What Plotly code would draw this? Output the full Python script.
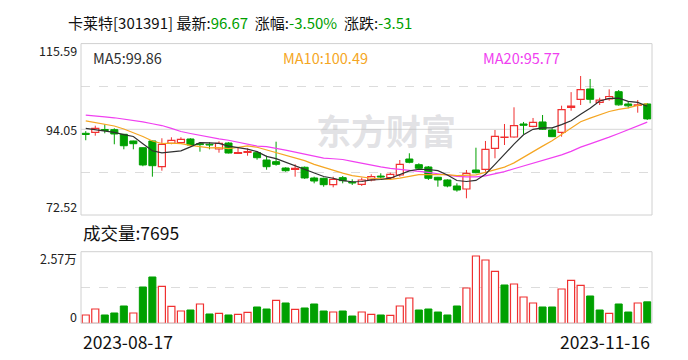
import plotly.graph_objects as go

# ---------------- data ----------------
dates = [
    "2023-08-17", "2023-08-18", "2023-08-21", "2023-08-22", "2023-08-23", "2023-08-24", "2023-08-25",
    "2023-08-28", "2023-08-29", "2023-08-30", "2023-08-31",
    "2023-09-01", "2023-09-04", "2023-09-05", "2023-09-06", "2023-09-07", "2023-09-08",
    "2023-09-11", "2023-09-12", "2023-09-13", "2023-09-14", "2023-09-15",
    "2023-09-18", "2023-09-19", "2023-09-20", "2023-09-21", "2023-09-22",
    "2023-09-25", "2023-09-26", "2023-09-27", "2023-09-28",
    "2023-10-09", "2023-10-10", "2023-10-11", "2023-10-12", "2023-10-13",
    "2023-10-16", "2023-10-17", "2023-10-18", "2023-10-19", "2023-10-20",
    "2023-10-23", "2023-10-24", "2023-10-25", "2023-10-26", "2023-10-27",
    "2023-10-30", "2023-10-31",
    "2023-11-01", "2023-11-02", "2023-11-03", "2023-11-06", "2023-11-07", "2023-11-08",
    "2023-11-09", "2023-11-10", "2023-11-13", "2023-11-14", "2023-11-15", "2023-11-16",
]
opens = [93.05, 93.30, 94.00, 93.96, 92.80, 91.12, 89.43, 91.12, 84.66, 90.54,
         90.70, 91.62, 90.45, 90.30, 89.11, 90.61, 88.00, 88.28, 88.18, 86.34,
         85.92, 84.33, 84.00, 84.51, 81.82, 81.74, 80.14, 81.90, 80.74, 80.23,
         81.32, 82.30, 81.90, 82.57, 86.59, 85.16, 84.58, 82.00, 81.32, 79.81,
         79.05, 83.83, 84.00, 89.28, 92.00, 92.12, 95.39, 94.80, 95.90, 93.88,
         93.30, 99.58, 101.59, 104.19, 100.84, 101.67, 103.50, 100.42, 100.05, 100.42]
highs = [93.60, 94.96, 95.31, 94.31, 92.90, 91.20, 89.50, 91.20, 91.80, 92.05,
         92.05, 91.80, 90.80, 90.79, 91.04, 90.80, 89.43, 89.28, 88.60, 87.42,
         90.94, 84.50, 85.26, 84.70, 82.15, 81.90, 82.15, 82.32, 81.49, 81.90,
         82.75, 83.00, 83.15, 86.34, 88.03, 85.51, 84.83, 82.10, 81.50, 80.48,
         83.83, 89.43, 91.12, 93.88, 95.39, 99.58, 95.90, 96.90, 97.65, 94.30,
         99.99, 103.40, 107.45, 106.70, 102.00, 104.10, 103.93, 101.00, 101.42, 100.60]
lows = [91.30, 92.45, 93.05, 90.29, 89.03, 89.03, 84.76, 82.15, 83.65, 90.30,
        90.37, 89.90, 88.43, 89.03, 88.18, 88.00, 87.85, 87.42, 86.42, 83.90,
        84.91, 83.40, 82.15, 81.60, 80.48, 79.63, 79.48, 80.48, 80.06, 79.81,
        80.98, 81.57, 81.40, 82.15, 85.51, 84.00, 81.32, 79.63, 79.48, 78.38,
        76.72, 83.00, 83.40, 86.77, 90.11, 91.95, 92.88, 94.56, 93.88, 92.10,
        92.20, 98.73, 100.16, 100.60, 100.16, 101.25, 99.99, 99.33, 98.23, 96.40]
closes = [92.75, 94.31, 93.75, 92.88, 89.93, 90.44, 85.09, 84.91, 90.29, 91.29,
          91.54, 90.11, 90.20, 90.10, 90.54, 88.10, 88.20, 88.43, 86.92, 84.66,
          85.26, 83.65, 84.25, 81.83, 81.06, 80.14, 81.49, 81.15, 80.56, 81.32,
          82.15, 82.05, 82.75, 85.26, 85.76, 84.26, 81.74, 81.32, 79.81, 78.80,
          83.00, 83.15, 89.03, 92.30, 92.10, 95.00, 95.06, 95.81, 94.06, 92.20,
          99.00, 99.90, 104.00, 101.59, 101.40, 102.30, 100.20, 99.95, 100.18, 96.67]
volumes = [2980, 5130, 2980, 3700, 6210, 3700, 13030, 16620, 13280, 6100,
           4410, 4770, 6930, 3340, 3590, 2980, 3230, 3950, 5850, 5130,
           8260, 7290, 5030, 5490, 6930, 4410, 4050, 4410, 2620, 4050,
           3230, 2980, 2860, 6210, 9080, 4770, 5130, 4050, 2980, 6210,
           12670, 24160, 22720, 18660, 13750, 14110, 9440, 7290, 5850, 5850,
           12310, 15430, 13640, 9800, 4770, 3590, 6930, 4050, 7290, 7695]
prev_close = 92.50  # close of the session before the first shown day

# moving-average values at the left edge (they depend on sessions before the window)
ma5_lead = [94.30, 94.00, 93.60, 93.30]
ma10_lead = [96.15, 95.77, 95.31, 94.89, 94.13, 93.25, 92.25, 91.12, 90.49]
ma20_lead = [97.60, 97.45, 97.20, 96.95, 96.65, 96.30, 95.90, 95.45, 95.00, 94.30,
             93.50, 93.00, 92.50, 92.00, 91.65, 91.30, 90.85, 90.35, 89.85]

stock_name = "卡莱特[301391]"
latest = "96.67"
pct_change = "-3.50%"
abs_change = "-3.51"
ma_labels = {"MA5": "99.86", "MA10": "100.49", "MA20": "95.77"}
last_volume = "7695"

price_ticks = [72.52, 94.05, 115.59]
vol_top = 25700
vol_top_label = "2.57万"

# ---------------- styles ----------------
RED = "#f03030"
GREEN = "#00a000"
C_MA5 = "#303030"
C_MA10 = "#f5a623"
C_MA20 = "#f040f0"
FONT = "Noto Sans CJK SC"

W, H = 688, 360
L_PX, R_PX = 81, 652
P_TOP, P_BOT = 43.6, 215
V_TOP, V_BOT = 251.7, 323.3


def moving_average(vals, n, lead):
    out = list(lead)
    for i in range(len(lead), len(vals)):
        out.append(sum(vals[i - n + 1:i + 1]) / n)
    return out


ma5 = moving_average(closes, 5, ma5_lead)
ma10 = moving_average(closes, 10, ma10_lead)
ma20 = moving_average(closes, 20, ma20_lead)

fig = go.Figure()

# wicks
for up in (True, False):
    xs, ys = [], []
    for i, d in enumerate(dates):
        if (closes[i] >= opens[i]) != up:
            continue
        top = max(opens[i], closes[i])
        bot = min(opens[i], closes[i])
        xs += [d, d, None, d, d, None]
        ys += [highs[i], top, None, bot, lows[i], None]
    fig.add_trace(go.Scatter(x=xs, y=ys, mode="lines", line=dict(color=RED if up else GREEN, width=1),
                             hoverinfo="skip", showlegend=False, xaxis="x", yaxis="y"))

# bodies
up_i = [i for i in range(len(dates)) if closes[i] >= opens[i]]
dn_i = [i for i in range(len(dates)) if closes[i] < opens[i]]
fig.add_trace(go.Bar(x=[dates[i] for i in up_i], base=[opens[i] for i in up_i],
                     y=[closes[i] - opens[i] for i in up_i], width=0.74,
                     marker=dict(color="white", line=dict(color=RED, width=1.2)),
                     showlegend=False, xaxis="x", yaxis="y"))
fig.add_trace(go.Bar(x=[dates[i] for i in dn_i], base=[closes[i] for i in dn_i],
                     y=[opens[i] - closes[i] for i in dn_i], width=0.74,
                     marker=dict(color=GREEN, line=dict(color=GREEN, width=1)),
                     showlegend=False, xaxis="x", yaxis="y"))

# moving averages
for vals, col in ((ma20, C_MA20), (ma10, C_MA10), (ma5, C_MA5)):
    fig.add_trace(go.Scatter(x=dates, y=vals, mode="lines", line=dict(color=col, width=1.2),
                             showlegend=False, xaxis="x", yaxis="y"))

# volume
prevs = [prev_close] + closes[:-1]
vu = [i for i in range(len(dates)) if closes[i] >= prevs[i]]
vd = [i for i in range(len(dates)) if closes[i] < prevs[i]]
fig.add_trace(go.Bar(x=[dates[i] for i in vu], y=[volumes[i] for i in vu], width=0.74,
                     marker=dict(color="white", line=dict(color=RED, width=1.2)),
                     showlegend=False, xaxis="x2", yaxis="y2"))
fig.add_trace(go.Bar(x=[dates[i] for i in vd], y=[volumes[i] for i in vd], width=0.74,
                     marker=dict(color=GREEN, line=dict(color=GREEN, width=1)),
                     showlegend=False, xaxis="x2", yaxis="y2"))

xdom = [L_PX / W, R_PX / W]
p_lo, p_hi = price_ticks[0], price_ticks[-1]
mid = (p_lo + p_hi) / 2
q1 = p_lo + (p_hi - p_lo) / 4
q3 = p_lo + 3 * (p_hi - p_lo) / 4

xcommon = dict(domain=xdom, type="category", categoryorder="array", categoryarray=dates,
               range=[-0.5, len(dates) - 0.5], showticklabels=False, showgrid=False,
               zeroline=False, showline=False, ticks="")

fig.update_layout(
    width=W, height=H, margin=dict(l=0, r=0, t=0, b=0),
    paper_bgcolor="white", plot_bgcolor="white",
    barmode="overlay", showlegend=False, hovermode=False,
    font=dict(family=FONT, color="#222222"),
    xaxis=dict(**xcommon, anchor="y"),
    xaxis2=dict(**xcommon, anchor="y2"),
    yaxis=dict(domain=[1 - P_BOT / H, 1 - P_TOP / H], range=[p_lo, p_hi],
               tickvals=[q1, q3], showticklabels=False, showgrid=True,
               gridcolor="#dcdcdc", griddash="dash", gridwidth=1, zeroline=False,
               showline=False, ticks=""),
    yaxis2=dict(domain=[1 - V_BOT / H, 1 - V_TOP / H], range=[0, vol_top],
                tickvals=[vol_top / 2], showticklabels=False, showgrid=True,
                gridcolor="#dcdcdc", griddash="dash", gridwidth=1, zeroline=False,
                showline=False, ticks=""),
)

# frames and mid line
for xr, yr in (("x domain", "y domain"), ("x2 domain", "y2 domain")):
    fig.add_shape(type="rect", xref=xr, yref=yr, x0=0, x1=1, y0=0, y1=1,
                  line=dict(color="#d0d0d0", width=1), fillcolor="rgba(0,0,0,0)", layer="above")
fig.add_shape(type="line", xref="x domain", yref="y", x0=0, x1=1, y0=mid, y1=mid,
              line=dict(color="#d6d6d6", width=1), layer="below")

ann = []
# watermark
ann.append(dict(text="<b>东方财富</b>", xref="paper", yref="paper", x=386 / W, y=1 - 129 / H,
                xanchor="center", yanchor="middle", showarrow=False,
                font=dict(size=35, color="rgba(190,190,196,0.45)", family=FONT)))
# title
nb = "\u00a0"
title = (f"{stock_name}{nb}最新:<span style='color:{GREEN}'>{latest}</span>{nb}{nb}"
         f"涨幅:<span style='color:{GREEN}'>{pct_change}</span>{nb}{nb}"
         f"涨跌:<span style='color:{GREEN}'>{abs_change}</span>")
ann.append(dict(text=title, xref="paper", yref="paper", x=66 / W, y=1 - 22 / H,
                xanchor="left", yanchor="middle", showarrow=False,
                font=dict(size=15, color="#111111", family=FONT)))
# MA labels
for (name, val), col, xp in zip(ma_labels.items(), (C_MA5, C_MA10, C_MA20), (91, 281, 481)):
    ann.append(dict(text=f"{name}:{val}", xref="paper", yref="paper", x=xp / W, y=1 - 57 / H,
                    xanchor="left", yanchor="middle", showarrow=False,
                    font=dict(size=14.5, color=col, family=FONT)))
# price tick labels
for v, sh in zip(price_ticks, (9, 0, -6.5)):
    ann.append(dict(text=f"{v:.2f}", xref="paper", yref="y", x=79 / W, y=v, yshift=sh,
                    xanchor="right", yanchor="middle", showarrow=False,
                    font=dict(size=12.5, color="#222222", family=FONT)))
# volume labels
ann.append(dict(text=f"成交量:{last_volume}", xref="paper", yref="paper", x=81 / W, y=1 - 232 / H,
                xanchor="left", yanchor="middle", showarrow=False,
                font=dict(size=17.5, color="#111111", family=FONT)))
ann.append(dict(text=vol_top_label, xref="paper", yref="y2", x=79 / W, y=vol_top, yshift=-7,
                xanchor="right", yanchor="middle", showarrow=False,
                font=dict(size=12.5, color="#222222", family=FONT)))
ann.append(dict(text="0", xref="paper", yref="y2", x=79 / W, y=0, yshift=7,
                xanchor="right", yanchor="middle", showarrow=False,
                font=dict(size=12.5, color="#222222", family=FONT)))
# date labels
ann.append(dict(text=dates[0], xref="paper", yref="paper", x=L_PX / W, y=1 - 341 / H,
                xanchor="left", yanchor="middle", showarrow=False,
                font=dict(size=17.5, color="#111111", family=FONT)))
ann.append(dict(text=dates[-1], xref="paper", yref="paper", x=R_PX / W, y=1 - 341 / H,
                xanchor="right", yanchor="middle", showarrow=False,
                font=dict(size=17.5, color="#111111", family=FONT)))
fig.update_layout(annotations=ann)

fig.write_html("out.html", config={"displayModeBar": False, "staticPlot": True},
               post_script="document.body.style.margin='0px';")
